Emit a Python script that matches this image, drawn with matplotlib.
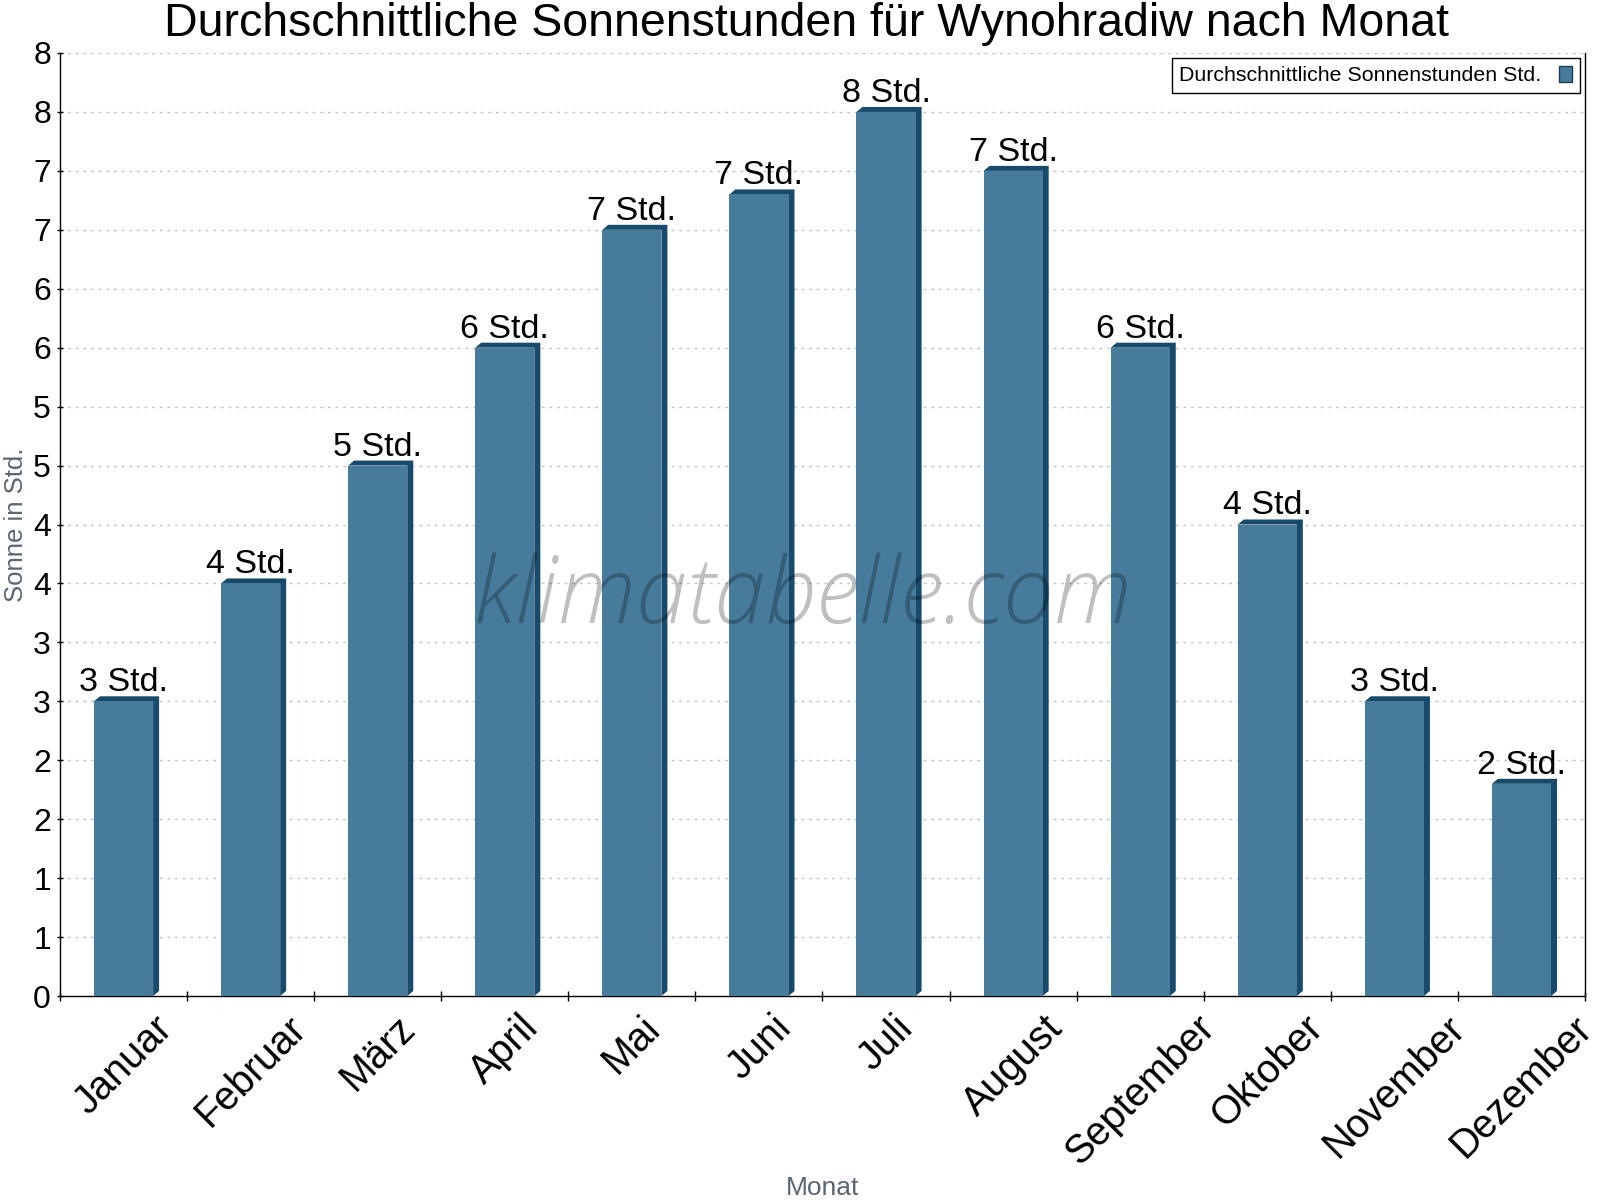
import numpy as np
import matplotlib
matplotlib.use("Agg")
import matplotlib.pyplot as plt
from matplotlib.patches import Polygon, Patch
from matplotlib.ticker import FixedLocator

# ---------------- data ----------------
months = ["Januar", "Februar", "März", "April", "Mai", "Juni", "Juli",
          "August", "September", "Oktober", "November", "Dezember"]
sun_hours = [2.5, 3.5, 4.5, 5.5, 6.5, 6.8, 7.5, 7.0, 5.5, 4.0, 2.5, 1.8]
bar_labels = ["3 Std.", "4 Std.", "5 Std.", "6 Std.", "7 Std.", "7 Std.",
              "8 Std.", "7 Std.", "6 Std.", "4 Std.", "3 Std.", "2 Std."]
y_ticks = [0, 0.5, 1, 1.5, 2, 2.5, 3, 3.5, 4, 4.5, 5, 5.5, 6, 6.5, 7, 7.5, 8]
y_tick_labels = ["0", "1", "1", "2", "2", "3", "3", "4", "4", "5", "5",
                 "6", "6", "7", "7", "8", "8"]
title = "Durchschnittliche Sonnenstunden für Wynohradiw nach Monat"
legend_label = "Durchschnittliche Sonnenstunden Std."
x_label = "Monat"
y_label = "Sonne in Std."
watermark = "klimatabelle.com"

# ---------------- style ----------------
FRONT = "#467b9c"
DARK = "#184a6b"
FONT = ["Liberation Sans", "DejaVu Sans"]
plt.rcParams["font.family"] = FONT

W, H, DPI = 1600, 1200, 100
fig = plt.figure(figsize=(W / DPI, H / DPI), dpi=DPI)
fig.patch.set_facecolor("white")

ax_l, ax_r, ax_t, ax_b = 60, 1585, 53, 996
ax = fig.add_axes([ax_l / W, 1 - ax_b / H, (ax_r - ax_l) / W, (ax_b - ax_t) / H])

x = np.arange(len(months))
bw = 0.465
ax.set_xlim(-0.5, len(months) - 0.5)
ax.set_ylim(0, 8)

# grid
ax.set_axisbelow(True)
ax.yaxis.grid(True, color="#c4c4c4", linestyle=(0, (2.0, 3.5)), linewidth=1.0, zorder=0)
ax.xaxis.grid(False)

# front faces
ax.bar(x, sun_hours, width=bw, color=FRONT, edgecolor="none", zorder=3)

# 3D top + side faces (offset in pixels)
dx, dy = 6, 5
inv = ax.transData.inverted()
for i, v in enumerate(sun_hours):
    px0, py0 = ax.transData.transform((i - bw / 2, 0))
    px1, py1 = ax.transData.transform((i + bw / 2, v))
    pts = [(px0, py1), (px0 + dx, py1 + dy), (px1 + dx, py1 + dy),
           (px1 + dx, py0 + dy), (px1, py0), (px1, py1)]
    ax.add_patch(Polygon(inv.transform(pts), closed=True, facecolor=DARK,
                         edgecolor="none", zorder=2.5))

# value labels
for i, (v, lab) in enumerate(zip(sun_hours, bar_labels)):
    ax.annotate(lab, xy=(i, v), xytext=(0, 10), textcoords="offset pixels",
                ha="center", va="baseline", fontsize=24.5, color="black", zorder=5)

# axes / ticks
ax.set_yticks(y_ticks)
ax.set_yticklabels(y_tick_labels)
ax.tick_params(axis="y", direction="inout", length=5, width=1, pad=4,
               labelsize=23, colors="black")
ax.set_xticks(x)
ax.set_xticklabels(months, rotation=45, ha="center", va="top")
ax.tick_params(axis="x", which="major", length=0, pad=9, labelsize=28.5)
ax.xaxis.set_minor_locator(FixedLocator(np.arange(-0.5, len(months), 1.0)))
ax.tick_params(axis="x", which="minor", direction="inout", length=7.2, width=1)

for s in ["left", "bottom", "right"]:
    ax.spines[s].set_color("black")
    ax.spines[s].set_linewidth(1.0)
ax.spines["top"].set_visible(False)

# axis labels
ax.set_ylabel(y_label, fontsize=18.5, color="#5b6670")
ax.yaxis.set_label_coords((28.5 - ax_l) / (ax_r - ax_l), 0.5)
ax.set_xlabel(x_label, fontsize=19, color="#5b6670")
ax.xaxis.set_label_coords(0.5, -(1176 - ax_b) / (ax_b - ax_t))

# title
fig.text(806 / W, 1 - 36 / H, title, ha="center", va="baseline", fontsize=33.5, color="black")

# legend
handle = Patch(facecolor=FRONT, edgecolor="#1b3d55", linewidth=1)
leg = ax.legend([handle], [legend_label], loc="upper right", markerfirst=False,
                fontsize=15.4, frameon=True, fancybox=False, framealpha=1,
                edgecolor="black", borderpad=0.35, handlelength=0.63,
                handleheight=0.77, handletextpad=0.8, borderaxespad=0.25)
leg.get_frame().set_linewidth(1.0)
leg.set_zorder(6)

# watermark
fig.text(803 / W, 1 - 623 / H, watermark, ha="center", va="baseline",
         fontsize=66, family=["Open Sans", "DejaVu Sans"], style="italic",
         weight="light", color="black", alpha=0.25, zorder=10)

fig.savefig("out.png", dpi=DPI, facecolor="white")
